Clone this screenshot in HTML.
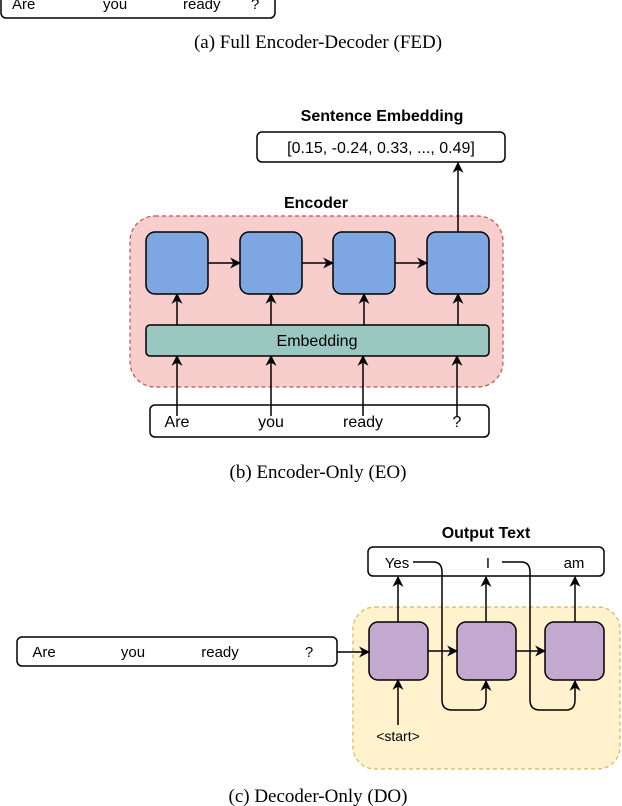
<!DOCTYPE html>
<html><head><meta charset="utf-8"><style>
html,body{margin:0;padding:0;background:#fff;}
svg{display:block;}
.s{font-family:"Liberation Sans",sans-serif;font-size:15px;fill:#000;}
.b{font-family:"Liberation Sans",sans-serif;font-size:16px;font-weight:bold;fill:#000;}
.c{font-family:"Liberation Serif",serif;font-size:19px;fill:#000;}
</style></head><body>
<svg width="622" height="806" viewBox="0 0 622 806" xmlns="http://www.w3.org/2000/svg">
<defs>
<marker id="ar" viewBox="0 0 10 10" refX="9" refY="5" markerWidth="11" markerHeight="11" markerUnits="userSpaceOnUse" orient="auto">
<path d="M0,0 L10,5 L0,10 L3,5 z" fill="#000"/></marker>
</defs>
<!-- (a) -->
<rect x="1" y="-12" width="274" height="30" rx="5" fill="#fff" stroke="#000" stroke-width="1.5"/>
<text class="s" x="12" y="9">Are</text>
<text class="s" x="103" y="9">you</text>
<text class="s" x="183" y="9">ready</text>
<text class="s" x="251" y="9">?</text>
<text class="c" x="318" y="48" text-anchor="middle">(a) Full Encoder-Decoder (FED)</text>

<!-- (b) -->
<text class="b" x="382" y="121" text-anchor="middle">Sentence Embedding</text>
<rect x="257" y="132" width="248" height="30" rx="5" fill="#fff" stroke="#000" stroke-width="1.5"/>
<text class="s" x="381" y="153" text-anchor="middle" style="font-size:16px">[0.15, -0.24, 0.33, ..., 0.49]</text>
<text class="b" x="316" y="208" text-anchor="middle">Encoder</text>
<rect x="130" y="216" width="373" height="171" rx="25" fill="#f8cecc" stroke="#b85450" stroke-width="1.2" stroke-dasharray="4,3"/>
<g fill="#7ea6e0" stroke="#000" stroke-width="1.5">
<rect x="146" y="232" width="62" height="62" rx="9"/>
<rect x="240" y="232" width="62" height="62" rx="9"/>
<rect x="333" y="232" width="62" height="62" rx="9"/>
<rect x="427" y="232" width="62" height="62" rx="9"/>
</g>
<rect x="146" y="325" width="343" height="31" rx="4" fill="#9ac7bf" stroke="#000" stroke-width="1.5"/>
<text class="s" x="317" y="346" text-anchor="middle" style="font-size:16px">Embedding</text>
<rect x="150" y="405" width="339" height="32" rx="5" fill="#fff" stroke="#000" stroke-width="1.5"/>
<g stroke="#000" stroke-width="1.5" fill="none" marker-end="url(#ar)">
<line x1="208" y1="263" x2="240" y2="263"/>
<line x1="302" y1="263" x2="333" y2="263"/>
<line x1="395" y1="263" x2="427" y2="263"/>
<line x1="177" y1="325" x2="177" y2="294"/>
<line x1="271" y1="325" x2="271" y2="294"/>
<line x1="364" y1="325" x2="364" y2="294"/>
<line x1="458" y1="325" x2="458" y2="294"/>
<line x1="177" y1="416" x2="177" y2="356"/>
<line x1="271" y1="416" x2="271" y2="356"/>
<line x1="363" y1="416" x2="363" y2="356"/>
<line x1="457" y1="416" x2="457" y2="356"/>
<line x1="458" y1="232" x2="458" y2="163"/>
</g>
<g class="s" text-anchor="middle" style="font-size:16px">
<text x="177" y="427">Are</text><text x="271" y="427">you</text><text x="363" y="427">ready</text><text x="457" y="427">?</text>
</g>
<text class="c" x="318" y="478" text-anchor="middle">(b) Encoder-Only (EO)</text>

<!-- (c) -->
<text class="b" x="486" y="538" text-anchor="middle">Output Text</text>
<rect x="368" y="547" width="236" height="29" rx="5" fill="#fff" stroke="#000" stroke-width="1.5"/>
<text class="s" x="397" y="568" text-anchor="middle">Yes</text>
<text class="s" x="488" y="568" text-anchor="middle">I</text>
<text class="s" x="574" y="568" text-anchor="middle">am</text>
<rect x="353" y="607" width="267" height="162" rx="22" fill="#fff2cc" stroke="#d6b656" stroke-width="1.2" stroke-dasharray="4,3"/>
<g fill="#c3a8cf" stroke="#000" stroke-width="1.5">
<rect x="369" y="622" width="59" height="58" rx="9"/>
<rect x="457" y="622" width="59" height="58" rx="9"/>
<rect x="545" y="622" width="59" height="58" rx="9"/>
</g>
<rect x="17" y="637" width="320" height="29" rx="5" fill="#fff" stroke="#000" stroke-width="1.5"/>
<g class="s" text-anchor="middle">
<text x="44" y="657">Are</text><text x="133" y="657">you</text><text x="220" y="657">ready</text><text x="309" y="657">?</text>
</g>
<text class="s" x="398" y="741" text-anchor="middle" style="font-size:14px">&lt;start&gt;</text>
<g stroke="#000" stroke-width="1.5" fill="none">
<line x1="337" y1="652" x2="369" y2="652" marker-end="url(#ar)"/>
<line x1="428" y1="651" x2="457" y2="651" marker-end="url(#ar)"/>
<line x1="516" y1="651" x2="545" y2="651" marker-end="url(#ar)"/>
<line x1="398" y1="622" x2="398" y2="577" marker-end="url(#ar)"/>
<line x1="486" y1="622" x2="486" y2="577" marker-end="url(#ar)"/>
<line x1="575" y1="622" x2="575" y2="577" marker-end="url(#ar)"/>
<line x1="398" y1="725" x2="398" y2="680" marker-end="url(#ar)"/>
<path d="M413,562 L433,562 Q442,562 442,572 L442,700 Q442,710 452,710 L477,710 Q486,710 486,700 L486,681" marker-end="url(#ar)"/>
<path d="M502,562 L521,562 Q530,562 530,572 L530,700 Q530,710 540,710 L566,710 Q575,710 575,700 L575,681" marker-end="url(#ar)"/>
</g>
<text class="c" x="318" y="802" text-anchor="middle">(c) Decoder-Only (DO)</text>
</svg>
</body></html>
